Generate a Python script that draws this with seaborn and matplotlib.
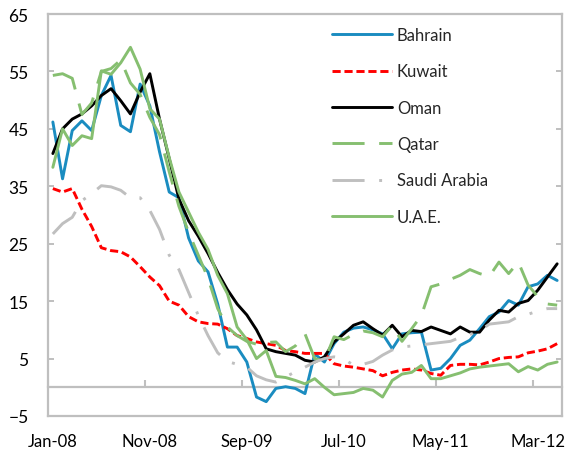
# GCC 국가별 지표 추이 (월별, Jan-08 ~ May-12)
import numpy as np
import pandas as pd
import matplotlib
matplotlib.use('Agg')
import matplotlib.pyplot as plt
import seaborn as sns

sns.set_style('white')
plt.rcParams['font.family'] = ['Lato', 'DejaVu Sans']

# ------------------------------------------------------------------------------
# 데이터
# ------------------------------------------------------------------------------
months = pd.date_range('2008-01-01', periods=53, freq='MS')
month_labels = months.strftime('%b-%y')

bahrain = [46.2, 36.3, 44.7, 46.4, 44.7, 50.8, 54.3, 45.6, 44.5, 52.8, 49.0, 41.0, 34.0,
           33.0, 26.0, 22.0, 20.1, 14.5, 7.0, 7.0, 4.4, -1.7, -2.5, -0.2, 0.1, -0.2,
           -1.1, 5.8, 4.4, 7.6, 9.6, 10.3, 10.5, 10.0, 9.3, 6.7, 9.3, 9.5, 9.6, 3.0,
           3.3, 5.0, 7.3, 8.2, 10.2, 12.3, 13.1, 15.1, 14.3, 17.5, 18.0, 19.5, 18.6]
kuwait = [34.6, 34.0, 34.6, 31.0, 28.0, 24.3, 23.8, 23.6, 22.7, 21.0, 19.2, 17.7, 15.0,
          14.3, 12.3, 11.4, 11.1, 11.0, 10.2, 9.0, 8.5, 7.9, 7.6, 7.3, 6.4, 6.2,
          5.9, 5.9, 5.9, 4.1, 3.7, 3.5, 3.2, 2.9, 2.0, 2.6, 3.0, 3.2, 3.0, 2.4,
          2.1, 3.8, 4.0, 4.0, 3.9, 4.4, 5.0, 5.2, 5.3, 6.0, 6.3, 6.7, 7.6]
oman = [40.7, 45.0, 46.7, 47.6, 49.0, 50.8, 52.0, 49.9, 47.6, 51.4, 54.6, 46.7, 39.8,
        32.8, 29.0, 26.3, 23.3, 20.0, 17.0, 14.5, 12.6, 10.0, 6.7, 6.2, 5.9, 5.6,
        4.7, 4.4, 5.3, 7.9, 9.3, 10.8, 11.4, 10.2, 9.1, 10.8, 8.8, 9.9, 9.7, 10.5,
        9.9, 9.3, 10.5, 9.6, 9.6, 11.7, 13.4, 13.1, 14.6, 15.1, 16.9, 19.2, 21.5]
qatar = [54.3, 54.6, 53.8, 47.5, 49.5, 55.0, 55.5, 57.0, 53.0, 51.0, 47.0, 44.0, 37.5,
         31.5, 27.0, 23.0, 19.0, 13.7, 10.5, 9.0, 8.0, 7.5, 7.8, 7.9, 6.2, 7.2,
         9.3, 5.0, 4.6, 8.8, 8.3, 9.2, 9.8, 9.5, 8.8, 10.8, 8.0, 10.2, 12.5, 17.5,
         18.0, 18.8, 19.5, 20.5, 19.8, 19.3, 21.8, 19.8, 21.8, 17.8, 15.8, 14.5, 14.3]
saudi = [26.7, 28.5, 29.6, 32.5, 33.7, 35.1, 34.9, 34.3, 33.0, 33.0, 30.8, 27.5, 23.0,
         20.5, 16.5, 12.5, 9.0, 6.0, 4.5, 4.0, 3.5, 2.0, 1.3, 0.9, 1.8, 2.7,
         3.5, 4.4, 5.0, 5.3, 5.0, 3.8, 4.0, 4.5, 5.6, 6.5, 7.0, 7.2, 7.4, 7.6,
         7.8, 8.0, 8.7, 9.2, 9.8, 11.0, 11.2, 11.4, 12.3, 12.7, 13.3, 13.7, 13.7]
uae = [38.3, 45.0, 42.1, 43.8, 43.3, 55.1, 54.5, 56.5, 59.2, 55.4, 48.5, 46.7, 40.0,
       34.0, 30.5, 27.0, 24.0, 19.5, 16.3, 10.5, 8.3, 5.0, 6.4, 1.9, 1.7, 1.2,
       0.6, 1.5, 0.0, -1.3, -1.1, -0.9, -0.2, -0.5, -1.7, 1.2, 2.3, 2.6, 3.8, 1.5,
       1.5, 2.0, 2.5, 3.2, 3.5, 3.7, 3.9, 4.1, 2.7, 3.6, 3.0, 4.0, 4.4]

df = pd.DataFrame({'Bahrain': bahrain, 'Kuwait': kuwait, 'Oman': oman,
                   'Qatar': qatar, 'Saudi Arabia': saudi, 'U.A.E.': uae})
df['idx'] = np.arange(len(months))

# 선 스타일
styles = {
    'Bahrain': dict(color='#1A8CC0', linestyle='-'),
    'Kuwait': dict(color='#FF0000', linestyle=(0, (2.8, 1.3))),
    'Oman': dict(color='#000000', linestyle='-'),
    'Qatar': dict(color='#86BF70', linestyle=(0, (11, 5))),
    'Saudi Arabia': dict(color='#BFBFBF', linestyle=(0, (11, 5, 1, 5))),
    'U.A.E.': dict(color='#86BF70', linestyle='-'),
}

# ------------------------------------------------------------------------------
# 그래프
# ------------------------------------------------------------------------------
fig = plt.figure(figsize=(5.72, 4.56), dpi=100)
rect = [48/572, 1-417/456, (562-48)/572, (417-15)/456]
ax = fig.add_axes(rect)

grey = '#BFBFBF'
xlim = (-0.5, len(months) - 0.5)
ylim = (-5, 65)

# 0 기준선 (카테고리 경계 눈금 포함) - 뒤쪽 보조 축
ax0 = fig.add_axes(rect, zorder=0)
ax0.set_xlim(xlim)
ax0.set_ylim(ylim)
ax0.patch.set_visible(False)
for side in ['top', 'left', 'right']:
    ax0.spines[side].set_visible(False)
ax0.spines['bottom'].set_position(('data', 0))
ax0.spines['bottom'].set_color(grey)
ax0.spines['bottom'].set_linewidth(1.6)
ax0.set_yticks([])
ax0.set_xticks(np.arange(-0.5, len(months) - 1, 10))
ax0.tick_params(axis='x', bottom=True, direction='in', length=5, width=1.5,
                color=grey, labelbottom=False)

ax.set_zorder(1)
ax.patch.set_visible(False)
for name, st in styles.items():
    sns.lineplot(data=df, x='idx', y=name, ax=ax, label=name, lw=2.1,
                 solid_joinstyle='round', **st)

ax.set_xlim(xlim)
ax.set_ylim(ylim)
ax.set_yticks(np.arange(-5, 66, 10))
ax.set_xticks(np.arange(0, len(months), 10))
ax.set_xticklabels(month_labels[::10])
ax.set_xlabel('')
ax.set_ylabel('')

for sp in ax.spines.values():
    sp.set_color(grey)
    sp.set_linewidth(1.6)
ax.tick_params(axis='x', length=0, pad=12, labelsize=12, colors='black')
ax.tick_params(axis='y', direction='in', length=4.5, width=1.4, color=grey,
               right=True, left=True, pad=14, labelsize=12.5, labelcolor='black')

ax.legend(loc='upper left', bbox_to_anchor=(332/572, 1-28/456),
          bbox_transform=fig.transFigure, frameon=False, fontsize=12,
          handlelength=3.6, handletextpad=0.3, labelspacing=1.22,
          borderpad=0, borderaxespad=0)

fig.savefig('out.png', dpi=100)
